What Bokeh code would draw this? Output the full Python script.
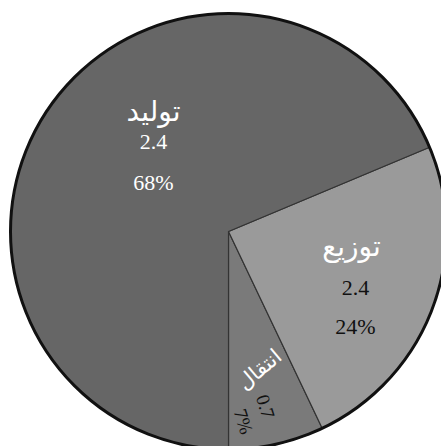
import math
from bokeh.plotting import figure
from bokeh.models import Range1d, ColumnDataSource
from bokeh.core.properties import value
from bokeh.embed import file_html
from bokeh.resources import INLINE

# ---- data ----
categories = ["انتقال", "توزیع", "تولید"]
amounts = ["0.7", "2.4", "2.4"]
percents = [7, 24, 68]
colors = ["#7a7a7a", "#9a9a9a", "#666666"]

W, H = 441, 446
p = figure(width=W, height=H, output_backend="svg", toolbar_location=None,
           x_range=Range1d(0, W), y_range=Range1d(0, H), min_border=0)
p.axis.visible = False
p.grid.visible = False
p.outline_line_color = None
p.background_fill_color = "white"
p.border_fill_color = "white"

cx, cy, R = 228, H - 231, 218
total = sum(percents)
start = -math.pi / 2
starts, ends = [], []
for v in percents:
    a = v / total * 2 * math.pi
    starts.append(start)
    ends.append(start + a)
    start += a

src = ColumnDataSource(dict(x=[cx] * 3, y=[cy] * 3, start=starts, end=ends,
                            color=colors, cat=categories))
p.wedge(x="x", y="y", radius=R, start_angle="start", end_angle="end",
        fill_color="color", line_color="#333333", line_width=1.2, source=src)
p.circle(x=[cx], y=[cy], radius=R, fill_color=None, line_color="#111111", line_width=3)

arabic = value("DejaVu Sans")
serif = value("'Liberation Serif', 'DejaVu Serif', serif")

def put(txt, x, y, ang, font, size, color):
    p.text(x=[x], y=[H - y], text=[txt], angle=math.radians(ang),
           text_font=font, text_font_size=size, text_color=color,
           text_align="center", text_baseline="middle")

# تولید
put(categories[2], 153, 111, 0, arabic, "28px", "white")
put(amounts[2], 153, 141, 0, serif, "22px", "white")
put(f"{percents[2]}%", 153, 182, 0, serif, "22px", "white")
# توزیع
put(categories[1], 351, 246, 0, arabic, "28px", "white")
put(amounts[1], 355, 287, 0, serif, "22px", "#111111")
put(f"{percents[1]}%", 355, 326, 0, serif, "22px", "#111111")
# انتقال
put(categories[0], 259, 369, 40, arabic, "21px", "white")
put(amounts[0], 265, 406, -72, serif, "19px", "#111111")
put(f"{percents[0]}%", 243, 421, -72, serif, "19px", "#111111")

open("out.html", "w").write(file_html(p, INLINE))
